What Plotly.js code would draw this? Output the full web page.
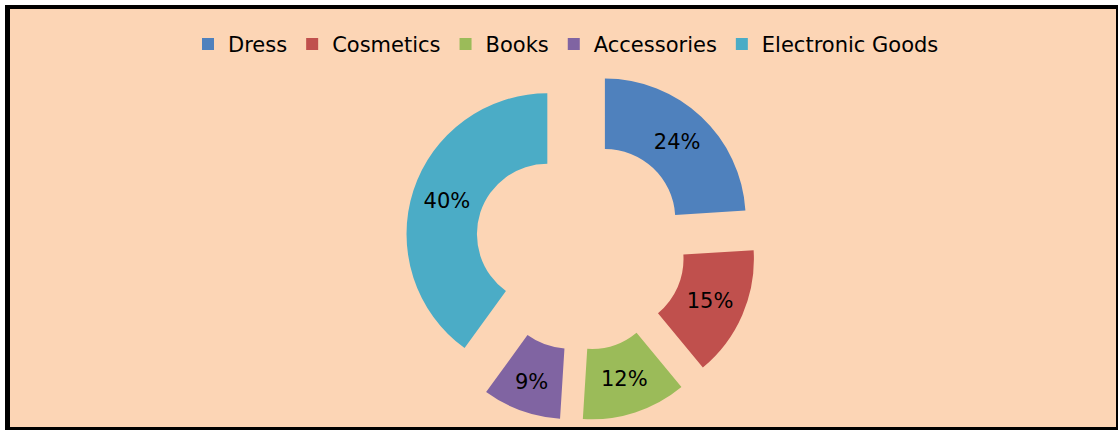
<!DOCTYPE html>
<html>
<head>
<meta charset="utf-8">
<script src="https://cdn.plot.ly/plotly-3.0.1.min.js"></script>
<style>
  html, body { margin: 0; padding: 0; background: #ffffff; }
  #frame { position: absolute; left: 5px; top: 5px; width: 1113px; height: 425px;
           box-sizing: border-box; background: #FCD5B5;
           border-style: solid; border-color: #000; border-width: 4px 2px 3px 5px; }
  #chart { position: absolute; left: 0; top: 0; width: 1118px; height: 430px; }
</style>
</head>
<body>
<div id="frame"></div>
<div id="chart"></div>
<script>
const categories = ["Dress", "Cosmetics", "Books", "Accessories", "Electronic Goods"];
const values = [24, 15, 12, 9, 40];
const colors = ["#4F81BD", "#C0504D", "#9BBB59", "#8064A2", "#4BACC6"];

const W = 1118, H = 430;
const mt = 68.75, mb = 8.75;
const cx = 580.8;
const half = 0.2;
const FONT = "DejaVu Sans, sans-serif";

const trace = {
  type: "pie",
  labels: categories,
  values: values,
  sort: false,
  direction: "clockwise",
  rotation: 0,
  hole: 0.5,
  pull: values.map(() => 0.25),
  textinfo: "percent",
  textposition: "inside",
  insidetextorientation: "horizontal",
  texttemplate: "%{percent:.0%}",
  textfont: { family: FONT, size: 21, color: "#000000" },
  marker: { colors: colors, line: { width: 0 } },
  domain: { x: [cx / W - half, cx / W + half], y: [0, 1] },
  hoverinfo: "label+percent"
};

const layout = {
  width: W, height: H,
  margin: { l: 0, r: 0, t: mt, b: mb, pad: 0 },
  paper_bgcolor: "rgba(0,0,0,0)",
  plot_bgcolor: "rgba(0,0,0,0)",
  showlegend: true,
  legend: {
    orientation: "h",
    x: 566 / W, xanchor: "center",
    y: (H - mb - 44) / (H - mt - mb), yanchor: "middle",
    font: { family: FONT, size: 21, color: "#000000" },
    bgcolor: "rgba(0,0,0,0)",
    traceorder: "normal"
  },
  font: { family: FONT }
};

Plotly.newPlot("chart", [trace], layout, { displayModeBar: false, staticPlot: true });
</script>
</body>
</html>
